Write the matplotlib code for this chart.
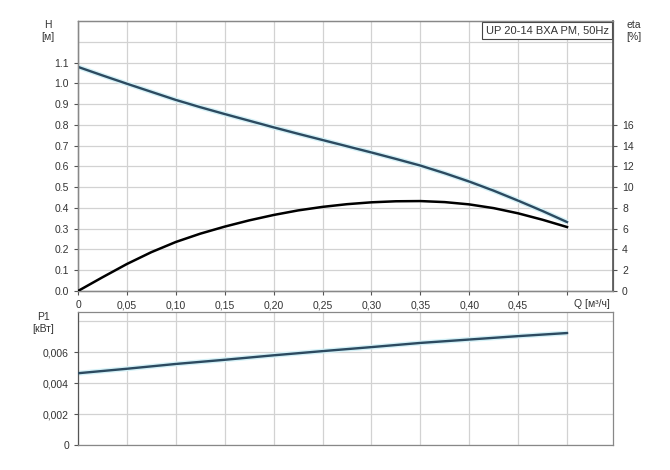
import numpy as np
import matplotlib
matplotlib.use("Agg")
import matplotlib.pyplot as plt

plt.rcParams['font.family'] = ['Liberation Sans', 'DejaVu Sans']

# pump curves
q = [0, 0.025, 0.05, 0.075, 0.10, 0.125, 0.15, 0.175, 0.20, 0.225, 0.25,
     0.275, 0.30, 0.325, 0.35, 0.375, 0.40, 0.425, 0.45, 0.475, 0.50]
h = [1.079, 1.038, 0.998, 0.959, 0.920, 0.885, 0.852, 0.820, 0.788, 0.757, 0.727,
     0.697, 0.667, 0.636, 0.604, 0.567, 0.527, 0.483, 0.435, 0.385, 0.332]
eta = [0, 1.32, 2.60, 3.74, 4.72, 5.52, 6.20, 6.80, 7.32, 7.76, 8.10,
       8.36, 8.54, 8.64, 8.66, 8.56, 8.34, 7.98, 7.48, 6.86, 6.16]
q_p = [0, 0.05, 0.10, 0.15, 0.20, 0.25, 0.30, 0.35, 0.40, 0.45, 0.50]
p1 = [0.00464, 0.00493, 0.00524, 0.00551, 0.0058, 0.00607, 0.00633, 0.0066,
      0.00682, 0.00704, 0.00724]

xticks = [0, 0.05, 0.10, 0.15, 0.20, 0.25, 0.30, 0.35, 0.40, 0.45, 0.50]
xlabels = ['0', '0,05', '0,10', '0,15', '0,20', '0,25', '0,30', '0,35', '0,40', '0,45', '']
hticks = [0.0, 0.1, 0.2, 0.3, 0.4, 0.5, 0.6, 0.7, 0.8, 0.9, 1.0, 1.1]
etaticks = [0, 2, 4, 6, 8, 10, 12, 14, 16]
pticks = [0, 0.002, 0.004, 0.006]
plabels = ['0', '0,002', '0,004', '0,006']

txt = '#333333'
gridc = '#d2d2d2'
blue = '#2c4a60'
halo = '#d4f1f7'

fig = plt.figure(figsize=(6.7, 4.7), dpi=100)
W, H = 670.0, 470.0
ax = fig.add_axes([78/W, 1-291/H, (613-78)/W, 270/H])
ax2 = ax.twinx()
axb = fig.add_axes([78/W, 1-445/H, (613-78)/W, 133/H])

# ---- top panel
ax.set_xlim(0, 0.547)
ax.set_ylim(0, 1.3)
ax.set_xticks(xticks)
ax.set_xticklabels(xlabels)
ax.set_yticks(hticks)
ax.set_yticklabels(['%.1f' % v for v in hticks])
for v in xticks:
    ax.axvline(v, color=gridc, lw=0.9, zorder=0)
for v in hticks + [1.2]:
    ax.axhline(v, color=gridc, lw=0.9, zorder=0)
ax.plot(q, h, color=halo, lw=3.6, zorder=2, solid_capstyle='butt')
ax.plot(q, h, color=blue, lw=1.7, zorder=3)

ax2.set_ylim(0, 26)
ax2.set_yticks(etaticks)
ax2.plot(q, eta, color='black', lw=1.8, zorder=3)

for a in (ax, ax2):
    a.tick_params(colors='#555555', labelcolor=txt, labelsize=7.5, length=3, width=0.8)
    for s in a.spines.values():
        s.set_color('#888888')
        s.set_linewidth(0.9)
ax.spines['left'].set_color('#555555')
ax.spines['bottom'].set_color('#555555')
ax2.spines['right'].set_color('#555555')
ax2.spines['right'].set_linewidth(1.2)

ax.text(0.525, -0.03, 'Q [м³/ч]', transform=ax.get_xaxis_transform(),
        ha='center', va='top', fontsize=7.5, color=txt)
ax.text(0.992, 0.984, 'UP 20-14 BXA PM, 50Hz', transform=ax.transAxes,
        ha='right', va='top', fontsize=8, color=txt,
        bbox=dict(boxstyle='square,pad=0.3', fc='white', ec='#444444', lw=0.8))

fig.text(48/W, 1-31/H, 'H\n[м]', ha='center', va='center', fontsize=7.5,
         color=txt, linespacing=1.2)
fig.text(634/W, 1-31/H, 'eta\n[%]', ha='center', va='center', fontsize=7.5,
         color=txt, linespacing=1.2)

# ---- bottom panel
axb.set_xlim(0, 0.547)
axb.set_ylim(0, 0.0086)
axb.set_xticks(xticks)
axb.set_xticklabels([])
axb.tick_params(axis='x', length=0)
axb.set_yticks(pticks)
axb.set_yticklabels(plabels)
for v in xticks:
    axb.axvline(v, color=gridc, lw=0.9, zorder=0)
for v in pticks + [0.008]:
    axb.axhline(v, color=gridc, lw=0.9, zorder=0)
axb.plot(q_p, p1, color=halo, lw=3.6, zorder=2, solid_capstyle='butt')
axb.plot(q_p, p1, color=blue, lw=1.7, zorder=3)
axb.tick_params(axis='y', colors='#555555', labelcolor=txt, labelsize=7.5, length=3, width=0.8)
for s in axb.spines.values():
    s.set_color('#888888')
    s.set_linewidth(0.9)
axb.spines['left'].set_color('#555555')

fig.text(43/W, 1-323/H, 'P1\n[кВт]', ha='center', va='center', fontsize=7.5,
         color=txt, linespacing=1.2)

fig.savefig('out.png', dpi=100)
